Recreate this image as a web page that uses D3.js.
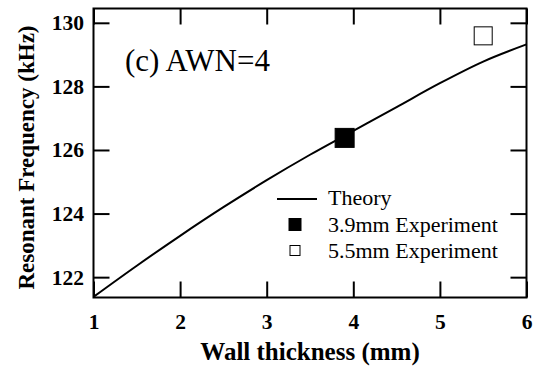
<!DOCTYPE html>
<html>
<head>
<meta charset="utf-8">
<script src="https://cdn.jsdelivr.net/npm/d3@7"></script>
<style>
  body { margin: 0; background: #fff; }
  svg { display: block; }
</style>
</head>
<body>
<svg id="chart" width="536" height="367"></svg>
<script>
// theory curve
const thickness = [1.0, 1.5, 2.0, 2.5, 3.0, 3.5, 4.0, 4.5, 5.0, 5.5, 6.0]
const theoryFreq = [121.38, 122.36, 123.3, 124.2, 125.05, 125.85, 126.6, 127.35, 128.1, 128.78, 129.32]

// experiments
const expNames = ['3.9mm Experiment', '5.5mm Experiment']
const expThickness = [3.9, 5.5]
const expFreq = [126.38, 129.59]
const expFilled = [true, false]

const xTicks = [1, 2, 3, 4, 5, 6]
const yTicks = [122, 124, 126, 128, 130]

const svg = d3.select('#chart')
const margin = {top: 8.5, right: 9.5, bottom: 69.5, left: 93.5}
const width = 536, height = 367
const font = '"Liberation Serif", "Times New Roman", serif'

const x = d3.scaleLinear().domain([1, 6]).range([margin.left, width - margin.right])
const y = d3.scaleLinear().domain([121.36, 130.45]).range([height - margin.bottom, margin.top])

const tickLen = 16

// axes with inward ticks, mirrored on all sides
const bottomAxis = d3.axisBottom(x).tickValues(xTicks).tickFormat(d3.format('d'))
  .tickSizeInner(-tickLen).tickSizeOuter(0).tickPadding(16.5)
const topAxis = d3.axisTop(x).tickValues(xTicks).tickSizeInner(-tickLen).tickSizeOuter(0).tickFormat('')
const leftAxis = d3.axisLeft(y).tickValues(yTicks).tickFormat(d3.format('d'))
  .tickSizeInner(-tickLen).tickSizeOuter(0).tickPadding(9.5)
const rightAxis = d3.axisRight(y).tickValues(yTicks).tickSizeInner(-tickLen).tickSizeOuter(0).tickFormat('')

function styleAxis(g) {
  g.select('.domain').remove()
  g.selectAll('.tick line').attr('stroke', '#000').attr('stroke-width', 2)
  g.selectAll('.tick text')
    .attr('fill', '#000')
    .style('font-family', font)
    .style('font-weight', 'bold')
    .style('font-size', '21.5px')
}

svg.append('g').attr('transform', `translate(0,${height - margin.bottom})`).call(bottomAxis).call(styleAxis)
svg.append('g').attr('transform', `translate(0,${margin.top})`).call(topAxis).call(styleAxis)
svg.append('g').attr('transform', `translate(${margin.left},0)`).call(leftAxis).call(styleAxis)
svg.append('g').attr('transform', `translate(${width - margin.right},0)`).call(rightAxis).call(styleAxis)

// frame
svg.append('rect')
  .attr('x', margin.left).attr('y', margin.top)
  .attr('width', width - margin.left - margin.right)
  .attr('height', height - margin.top - margin.bottom)
  .attr('fill', 'none').attr('stroke', '#000').attr('stroke-width', 2)

// theory line
const line = d3.line()
  .x((d, i) => x(thickness[i]))
  .y(d => y(d))
  .curve(d3.curveMonotoneX)

svg.append('path')
  .datum(theoryFreq)
  .attr('fill', 'none')
  .attr('stroke', '#000')
  .attr('stroke-width', 2)
  .attr('d', line)

// experiment markers
const sizes = [19, 18]
expThickness.forEach((t, i) => {
  const s = sizes[i]
  svg.append('rect')
    .attr('x', x(t) - s / 2).attr('y', y(expFreq[i]) - s / 2)
    .attr('width', s).attr('height', s)
    .attr('fill', expFilled[i] ? '#000' : '#fff')
    .attr('stroke', '#000').attr('stroke-width', 1)
})

// annotation
svg.append('text')
  .attr('x', 125).attr('y', 71)
  .style('font-family', font).style('font-size', '31px')
  .text('(c) AWN=4')

// legend
const legend = svg.append('g')
const rows = [205, 231.5, 257.5]
legend.append('line')
  .attr('x1', 277).attr('x2', 317).attr('y1', rows[0] - 6).attr('y2', rows[0] - 6)
  .attr('stroke', '#000').attr('stroke-width', 2)
legend.append('text').attr('x', 328).attr('y', rows[0])
  .style('font-family', font).style('font-size', '22px').text('Theory')
expNames.forEach((name, i) => {
  const s = expFilled[i] ? 12 : 10
  legend.append('rect')
    .attr('x', 295 - s / 2).attr('y', rows[i + 1] - 7 - s / 2)
    .attr('width', s).attr('height', s)
    .attr('fill', expFilled[i] ? '#000' : '#fff')
    .attr('stroke', '#000').attr('stroke-width', 1)
  legend.append('text').attr('x', 328).attr('y', rows[i + 1])
    .style('font-family', font).style('font-size', '22px').text(name)
})

// axis titles
svg.append('text')
  .attr('x', (margin.left + width - margin.right) / 2).attr('y', 360)
  .attr('text-anchor', 'middle')
  .style('font-family', font).style('font-weight', 'bold').style('font-size', '25px')
  .text('Wall thickness (mm)')

svg.append('text')
  .attr('transform', `translate(34,157.5) rotate(-90)`)
  .attr('text-anchor', 'middle')
  .style('font-family', font).style('font-weight', 'bold').style('font-size', '23px')
  .text('Resonant Frequency (kHz)')
</script>
</body>
</html>
